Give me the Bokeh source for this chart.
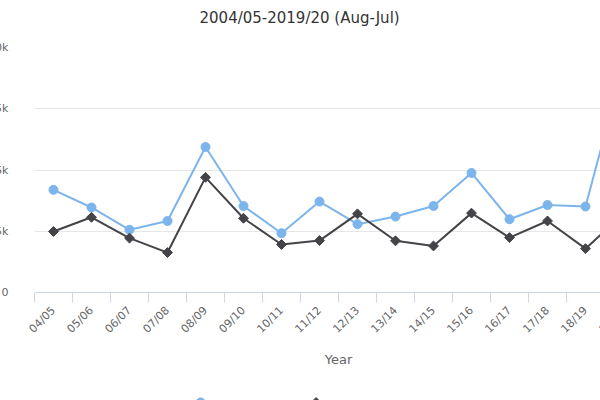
import math
from bokeh.plotting import figure
from bokeh.layouts import column
from bokeh.core.properties import value
from bokeh.models import (Range1d, FixedTicker, Title,
                          GlobalInlineStyleSheet, ColumnDataSource)
from bokeh.embed import file_html
from bokeh.resources import INLINE

title_text = "2004/05-2019/20 (Aug-Jul)"
series_names = ["Proposed", "Confirmed"]
years = ["04/05", "05/06", "06/07", "07/08", "08/09", "09/10", "10/11", "11/12",
         "12/13", "13/14", "14/15", "15/16", "16/17", "17/18", "18/19", "19/20"]
proposed = [4190, 3470, 2560, 2920, 5940, 3530, 2420, 3710,
            2790, 3100, 3530, 4880, 2990, 3570, 3510, 9300]
confirmed = [2490, 3070, 2220, 1630, 4700, 3030, 1960, 2120,
             3210, 2110, 1900, 3240, 2240, 2920, 1790, 3200]
y_ticks = [0, 2500, 5000, 7500, 10000]
y_tick_labels = ["0", "2.5k", "5k", "7.5k", "10k"]

FONT = "DejaVu Sans"
BLUE = "#7cb5ec"
DARK = "#434348"

n = len(years)
xs = [i + 0.5 for i in range(n)]
src = ColumnDataSource(dict(x=xs, year=years, proposed=proposed, confirmed=confirmed))

p = figure(frame_width=608, frame_height=245,
           x_range=Range1d(0, n), y_range=Range1d(y_ticks[0], y_ticks[-1]),
           output_backend="svg", toolbar_location=None, tools="",
           min_border_left=88, min_border_right=10, min_border_top=39,
           min_border_bottom=90)
p.outline_line_color = None
p.background_fill_color = "white"
p.border_fill_color = "white"

# x axis
p.xaxis.ticker = FixedTicker(ticks=xs, minor_ticks=list(range(n + 1)))
p.xaxis.major_label_overrides = {x: y for x, y in zip(xs, years)}
p.xaxis.major_label_orientation = math.pi / 4
p.xaxis.major_tick_line_color = None
p.xaxis.major_tick_out = 0
p.xaxis.major_tick_in = 0
p.xaxis.minor_tick_line_color = "#ccd6eb"
p.xaxis.minor_tick_out = 10
p.xaxis.minor_tick_in = 0
p.xaxis.axis_line_color = "#ccd6eb"
p.xaxis.major_label_text_font = FONT
p.xaxis.major_label_text_font_size = "11px"
p.xaxis.major_label_text_color = "#666666"
p.xaxis.major_label_standoff = 6
p.xaxis.axis_label = "Year"
p.xaxis.axis_label_text_font = FONT
p.xaxis.axis_label_text_font_size = "13px"
p.xaxis.axis_label_text_font_style = "normal"
p.xaxis.axis_label_text_color = "#666666"
p.xaxis.axis_label_standoff = 9
p.xgrid.grid_line_color = None

# y axis
p.yaxis.ticker = FixedTicker(ticks=y_ticks)
p.yaxis.major_label_overrides = {t: l for t, l in zip(y_ticks, y_tick_labels)}
p.yaxis.axis_line_color = None
p.yaxis.major_tick_line_color = None
p.yaxis.minor_tick_line_color = None
p.yaxis.major_label_text_font = FONT
p.yaxis.major_label_text_font_size = "11px"
p.yaxis.major_label_text_color = "#666666"
p.yaxis.major_label_standoff = 20
p.ygrid.grid_line_color = "#e6e6e6"

# series
p.line("x", "proposed", source=src, line_color=BLUE, line_width=2)
p.scatter("x", "proposed", source=src, marker="circle", size=9,
          fill_color=BLUE, line_color=BLUE)
p.line("x", "confirmed", source=src, line_color=DARK, line_width=2)
p.scatter("x", "confirmed", source=src, marker="square", angle=math.pi / 4,
          size=7, fill_color=DARK, line_color=DARK)

p.add_layout(Title(text=title_text, align="left", offset=165, standoff=42,
                   text_font=FONT, text_font_size="15px", text_font_style="normal",
                   text_color="#333333"), "above")

# legend strip below the chart (drawn as a key)
leg = figure(width=706, height=40, x_range=Range1d(0, 706), y_range=Range1d(0, 40),
             output_backend="svg", toolbar_location=None, tools="",
             x_axis_location=None, y_axis_location=None, min_border=0)
leg.outline_line_color = None
leg.grid.grid_line_color = None
key_sym_x = [193, 327]
key_txt_x = [212, 346]
key_colors = [BLUE, DARK]
leg.segment(x0=[x - 9 for x in key_sym_x], x1=[x + 9 for x in key_sym_x],
            y0=[20, 20], y1=[20, 20], line_color=key_colors, line_width=2)
leg.scatter(x=[key_sym_x[0]], y=[20], marker="circle", size=9,
            fill_color=BLUE, line_color=BLUE)
leg.scatter(x=[key_sym_x[1]], y=[20], marker="square", angle=math.pi / 4, size=7,
            fill_color=DARK, line_color=DARK)
leg.text(x=key_txt_x, y=[16.5, 16.5], text=series_names,
         text_font=value(FONT), text_font_size="12px", text_font_style="bold",
         text_color="#333333", text_baseline="alphabetic", text_align="left")

layout = column(p, leg, spacing=0, margin=(-15, 0, 0, -54))
p.stylesheets = [GlobalInlineStyleSheet(css="html, body { overflow: hidden; }")]

open("out.html", "w").write(file_html(layout, INLINE))
